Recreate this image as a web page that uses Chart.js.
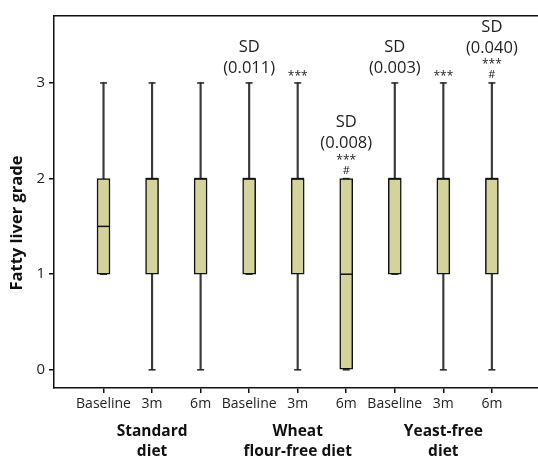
<!DOCTYPE html>
<html>
<head>
<meta charset="utf-8">
<script src="https://cdn.jsdelivr.net/npm/chart.js@4.4.0/dist/chart.umd.min.js"></script>
<style>
html,body{margin:0;padding:0;background:#fff;}
#wrap{width:538px;height:459px;}
</style>
</head>
<body>
<div id="wrap"><canvas id="c" width="538" height="459"></canvas></div>
<script>
// ---- data ----
const categories = ['Baseline','3m','6m','Baseline','3m','6m','Baseline','3m','6m'];
const groups = [
  {at: 2, lines: ['Standard','diet']},
  {at: 5, lines: ['Wheat','flour-free diet']},
  {at: 8, lines: ['Yeast-free','diet']}
];
const yTitle = 'Fatty liver grade';
const whiskerMin = [1, 0, 0, 1, 0, 0, 1, 0, 0];
const q1         = [1, 1, 1, 1, 1, 0, 1, 1, 1];
const median     = [1.5, 2, 2, 2, 2, 1, 2, 2, 2];
const q3         = [2, 2, 2, 2, 2, 2, 2, 2, 2];
const whiskerMax = [3, 3, 3, 3, 3, 2, 3, 3, 3];
const sdLabels   = ['', '', '', '(0.011)', '', '(0.008)', '(0.003)', '', '(0.040)'];
const starLabels = ['', '', '', '', '***', '***', '', '***', '***'];
const hashLabels = ['', '', '', '', '', '#', '', '', '#'];
const yTicks = [0, 1, 2, 3];

const FONT = "'Open Sans', 'Noto Sans', sans-serif";
const pos = categories.map((_, i) => i + 1);

const annot = {
  id: 'annot',
  afterDatasetsDraw(chart) {
    const ctx = chart.ctx, xs = chart.scales.x, ys = chart.scales.y;
    ctx.save();
    ctx.fillStyle = '#222';
    ctx.textAlign = 'center';
    pos.forEach((p, i) => {
      const x = xs.getPixelForValue(p);
      let cur = ys.getPixelForValue(whiskerMax[i]);
      let any = false;
      if (hashLabels[i]) {
        const c = cur - 8;
        ctx.font = "11px " + FONT; ctx.textBaseline = 'middle';
        ctx.fillText(hashLabels[i], x, c);
        cur = c; any = true;
      }
      if (starLabels[i]) {
        const c = cur - (any ? 14 : 10);
        ctx.font = "12px " + FONT; ctx.textBaseline = 'alphabetic';
        ctx.fillText(starLabels[i], x, c + 7.5);
        cur = c; any = true;
      }
      if (sdLabels[i]) {
        let c = cur - (any ? 13 : 15);
        ctx.font = "16.5px " + FONT; ctx.textBaseline = 'middle';
        ctx.fillText(sdLabels[i], x, c);
        c -= 21;
        ctx.fillText('SD', x, c);
      }
    });
    // group labels
    ctx.font = "bold 15.5px " + FONT;
    ctx.fillStyle = '#111';
    ctx.textBaseline = 'middle';
    groups.forEach(g => {
      const x = xs.getPixelForValue(g.at);
      g.lines.forEach((t, k) => ctx.fillText(t, x, 432 + k * 20));
    });
    // y title
    ctx.save();
    ctx.translate(17, 223);
    ctx.rotate(-Math.PI / 2);
    ctx.font = "bold 16.5px " + FONT;
    ctx.fillText(yTitle, 0, 0);
    ctx.restore();
    ctx.restore();
  }
};

const pts = (arr) => arr.map((v, i) => ({x: pos[i], y: v}));

new Chart(document.getElementById('c'), {
  data: {
    datasets: [
      {
        type: 'bar', label: 'whisker', order: 3, grouped: false,
        data: pos.map((p, i) => ({x: p, y: [whiskerMin[i], whiskerMax[i]]})),
        backgroundColor: '#3a3a3a', borderWidth: 0, barThickness: 1.5
      },
      {
        type: 'bar', label: 'box', order: 2, grouped: false,
        data: pos.map((p, i) => ({x: p, y: [q1[i], q3[i]]})),
        backgroundColor: 'rgb(211,211,155)', borderColor: '#111', borderWidth: 1.5,
        borderSkipped: false, barThickness: 13
      },
      {
        type: 'line', label: 'caps', order: 1, showLine: false,
        data: pts(whiskerMin).concat(pts(whiskerMax)),
        pointStyle: 'line', pointRadius: 3.5, pointBorderWidth: 1.5,
        borderColor: '#222', pointBorderColor: '#222', pointHoverRadius: 3.5
      },
      {
        type: 'line', label: 'median', order: 0, showLine: false,
        data: pts(median),
        pointStyle: 'line', pointRadius: 6.3, pointBorderWidth: 1.5,
        borderColor: '#111', pointBorderColor: '#111'
      }
    ]
  },
  options: {
    responsive: false, animation: false,
    events: [],
    layout: {autoPadding: false, padding: {left: 0, right: 0, top: 0, bottom: 0}},
    plugins: {legend: {display: false}, tooltip: {enabled: false}},
    scales: {
      x: {
        type: 'linear', position: 'bottom', min: -0.02, max: 9.95, offset: false,
        afterBuildTicks: (s) => { s.ticks = pos.map(v => ({value: v})); },
        afterFit: (s) => { s.height = 71; },
        ticks: {
          autoSkip: false, maxRotation: 0, padding: 3, color: '#222',
          font: {family: FONT, size: 14},
          callback: (v) => categories[v - 1] || ''
        },
        grid: {offset: false, drawOnChartArea: false, drawTicks: true, tickLength: 5, color: '#111', lineWidth: 1.5},
        border: {display: true, color: '#111', width: 1.5}
      },
      x2: {
        type: 'linear', position: 'top', min: -0.02, max: 9.95, offset: false,
        afterFit: (s) => { s.height = 16; },
        ticks: {display: false},
        grid: {display: false},
        border: {display: true, color: '#111', width: 1.5}
      },
      y: {
        type: 'linear', min: -0.19, max: 3.70,
        afterBuildTicks: (s) => { s.ticks = yTicks.map(v => ({value: v})); },
        afterFit: (s) => { s.width = 54; },
        ticks: {padding: 4, color: '#222', font: {family: FONT, size: 15}},
        grid: {drawOnChartArea: false, drawTicks: true, tickLength: 5, color: '#111', lineWidth: 1.5},
        border: {display: true, color: '#111', width: 1.5},
        title: {display: false}
      }
    }
  },
  plugins: [annot]
});
</script>
</body>
</html>
